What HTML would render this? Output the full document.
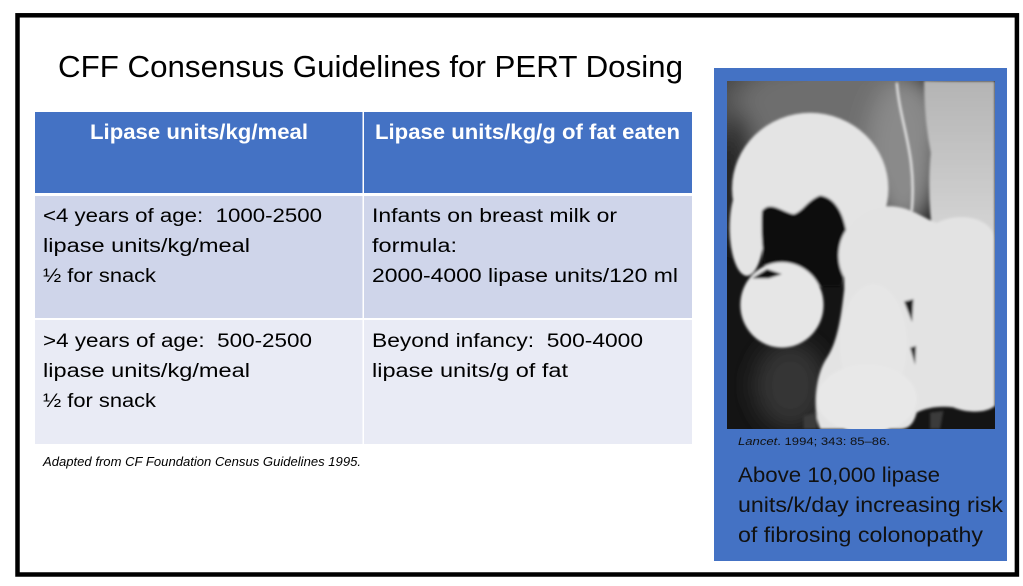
<!DOCTYPE html>
<html>
<head>
<meta charset="utf-8">
<style>
  html,body{margin:0;padding:0;background:#fff;}
  svg{display:block;}
  text{white-space:pre;}
</style>
</head>
<body>
<svg width="1023" height="586" viewBox="0 0 1023 586" xmlns="http://www.w3.org/2000/svg">
  <defs>
    <filter id="soft" x="-10%" y="-10%" width="120%" height="120%">
      <feGaussianBlur stdDeviation="4"/>
    </filter>
    <filter id="haze" x="-30%" y="-30%" width="160%" height="160%">
      <feGaussianBlur stdDeviation="35"/>
    </filter>
    <linearGradient id="col" x1="0" y1="0" x2="0" y2="1">
      <stop offset="0" stop-color="#b4b4b4"/>
      <stop offset="1" stop-color="#d6d6d6"/>
    </linearGradient>
    <clipPath id="imgclip">
      <rect x="727" y="81" width="268" height="348"/>
    </clipPath>
  </defs>

  <rect x="0" y="0" width="1023" height="586" fill="#ffffff"/>

  <!-- Frame -->
  <rect x="17.5" y="15.3" width="999.4" height="559.2" fill="none" stroke="#000" stroke-width="4.5"/>

  <!-- Title -->
  <text x="58" y="77" font-family="Liberation Sans, sans-serif" font-size="30.5" fill="#000" textLength="625" lengthAdjust="spacingAndGlyphs">CFF Consensus Guidelines for PERT Dosing</text>

  <!-- Table -->
  <rect x="35" y="112" width="657" height="81" fill="#4472C4"/>
  <rect x="35" y="196" width="657" height="122" fill="#CFD5EA"/>
  <rect x="35" y="320" width="657" height="124" fill="#E9EBF5"/>
  <rect x="362.5" y="112" width="1.5" height="332" fill="#ffffff"/>

  <g font-family="Liberation Sans, sans-serif" font-weight="bold" font-size="21.5" fill="#ffffff">
    <text x="90" y="139" textLength="218" lengthAdjust="spacingAndGlyphs">Lipase units/kg/meal</text>
    <text x="375" y="139" textLength="305" lengthAdjust="spacingAndGlyphs">Lipase units/kg/g of fat eaten</text>
  </g>

  <g font-family="Liberation Sans, sans-serif" font-size="19" fill="#000">
    <text x="43" y="222" textLength="279" lengthAdjust="spacingAndGlyphs">&lt;4 years of age:  1000-2500</text>
    <text x="43" y="252" textLength="207" lengthAdjust="spacingAndGlyphs">lipase units/kg/meal</text>
    <text x="43" y="282" textLength="113" lengthAdjust="spacingAndGlyphs">½ for snack</text>

    <text x="372" y="222" textLength="245" lengthAdjust="spacingAndGlyphs">Infants on breast milk or</text>
    <text x="372" y="252" textLength="85" lengthAdjust="spacingAndGlyphs">formula:</text>
    <text x="372" y="282" textLength="306" lengthAdjust="spacingAndGlyphs">2000-4000 lipase units/120 ml</text>

    <text x="43" y="347" textLength="269" lengthAdjust="spacingAndGlyphs">&gt;4 years of age:  500-2500</text>
    <text x="43" y="377" textLength="207" lengthAdjust="spacingAndGlyphs">lipase units/kg/meal</text>
    <text x="43" y="407" textLength="113" lengthAdjust="spacingAndGlyphs">½ for snack</text>

    <text x="372" y="347" textLength="271" lengthAdjust="spacingAndGlyphs">Beyond infancy:  500-4000</text>
    <text x="372" y="377" textLength="196" lengthAdjust="spacingAndGlyphs">lipase units/g of fat</text>
  </g>

  <text x="43" y="466" font-family="Liberation Sans, sans-serif" font-style="italic" font-size="12.5" fill="#000" textLength="318" lengthAdjust="spacingAndGlyphs">Adapted from CF Foundation Census Guidelines 1995.</text>

  <!-- Right blue panel -->
  <rect x="714" y="68" width="293" height="493" fill="#4472C4"/>

  <!-- X-ray approximation -->
  <g clip-path="url(#imgclip)">
    <rect x="727" y="81" width="268" height="348" fill="#141414"/>
    <g transform="translate(727,81) scale(0.3329,0.3418) translate(-80,-90)">
      <g filter="url(#haze)">
        <ellipse cx="180" cy="170" rx="200" ry="150" fill="#505050"/>
        <ellipse cx="420" cy="200" rx="330" ry="190" fill="#6e6e6e"/>
        <ellipse cx="610" cy="300" rx="110" ry="220" fill="#8a8a8a"/>
        <ellipse cx="270" cy="980" rx="110" ry="130" fill="#363636"/>
        <ellipse cx="110" cy="380" rx="60" ry="200" fill="#2a2a2a"/>
      </g>
      <g filter="url(#soft)">
        <path d="M672 90 L885 90 L885 560 L700 560 Q680 420 692 300 Q672 200 672 90 Z" fill="url(#col)"/>
        <!-- transverse arc -->
        <ellipse cx="330" cy="405" rx="235" ry="222" fill="#e4e4e4"/>
        <ellipse cx="140" cy="520" rx="52" ry="140" fill="#e4e4e4"/>
        <path d="M185 470 C210 440 240 470 280 480 C310 470 320 440 360 425 C400 430 430 470 440 540 C445 600 440 640 420 690 L200 690 C190 620 180 540 185 470 Z" fill="#111"/>
        <!-- lower left blob -->
        <circle cx="245" cy="745" r="125" fill="#e6e6e6"/>
        <path d="M155 668 L200 640 L245 655 L205 668 Z" fill="#111"/>
        <!-- big right mass -->
        <path d="M430 560 C450 470 540 440 620 465 C660 480 690 500 710 505 C780 470 885 490 885 560 L885 1040 C860 1062 800 1062 760 1045 C720 1040 680 1045 650 1060 C640 1095 625 1108 600 1108 L360 1108 C335 1050 345 950 380 900 C415 850 425 760 432 700 Z" fill="#e3e3e3"/>
        <ellipse cx="520" cy="600" rx="105" ry="120" fill="#e3e3e3"/>
        <ellipse cx="520" cy="860" rx="100" ry="175" fill="#e6e6e6"/>
        <ellipse cx="500" cy="1020" rx="150" ry="100" fill="#e8e8e8"/>
        <path d="M612 735 L640 728 L636 795 Z" fill="#1e1e1e"/>
        <path d="M630 870 L648 865 L645 920 Z" fill="#2a2a2a"/>
        <path d="M690 1060 L730 1055 L720 1108 L690 1108 Z" fill="#3a3a3a"/>
        <path d="M310 1070 L350 1060 L350 1108 L310 1108 Z" fill="#3a3a3a"/>
        <path d="M590 95 C600 220 650 300 635 470" fill="none" stroke="#e8e8e8" stroke-width="7"/>
      </g>
    </g>
  </g>

  <text x="738" y="445" font-family="Liberation Sans, sans-serif" font-size="11" fill="#111" textLength="152" lengthAdjust="spacingAndGlyphs"><tspan font-style="italic">Lancet</tspan>. 1994; 343: 85–86.</text>

  <g font-family="Liberation Sans, sans-serif" font-size="21.5" fill="#111">
    <text x="738" y="482" textLength="202" lengthAdjust="spacingAndGlyphs">Above 10,000 lipase</text>
    <text x="738" y="512" textLength="265" lengthAdjust="spacingAndGlyphs">units/k/day increasing risk</text>
    <text x="738" y="542" textLength="245" lengthAdjust="spacingAndGlyphs">of fibrosing colonopathy</text>
  </g>
</svg>
</body>
</html>
